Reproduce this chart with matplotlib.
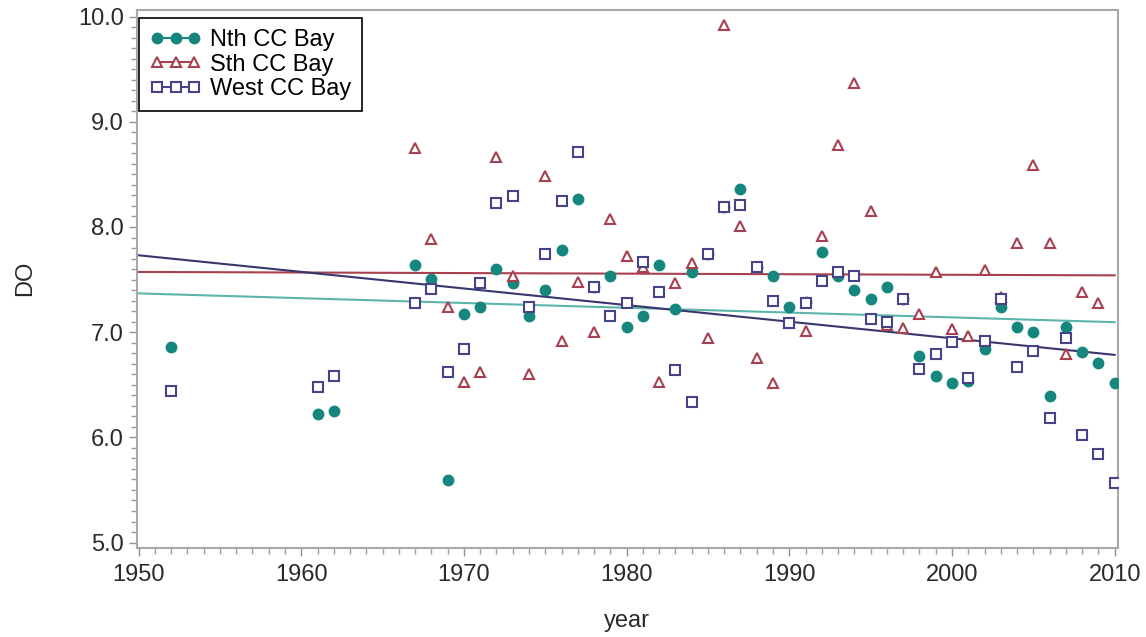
import matplotlib.pyplot as plt
import numpy as np
from matplotlib.ticker import MultipleLocator

# values
years_nth = [1952, 1961, 1962] + list(range(1967, 2011))
do_nth = [6.86, 6.22, 6.25,
          7.64, 7.51, 5.59, 7.17, 7.24, 7.60, 7.47, 7.15, 7.40, 7.78,
          8.27, 7.43, 7.53, 7.05, 7.15, 7.64, 7.22, 7.57, 7.74, 8.19,
          8.36, 7.62, 7.53, 7.24, 7.29, 7.76, 7.53, 7.40, 7.32, 7.43,
          7.32, 6.77, 6.58, 6.52, 6.54, 6.84, 7.24, 7.05, 7.00, 6.39,
          7.05, 6.81, 6.71, 6.52]

years_sth = list(range(1967, 2010))
do_sth = [8.75, 7.89, 7.24, 6.53, 6.62, 8.67, 7.53, 6.60, 8.48, 6.92,
          7.48, 7.00, 8.08, 7.72, 7.62, 6.53, 7.47, 7.66, 6.94, 9.92,
          8.01, 6.75, 6.52, 7.09, 7.01, 7.91, 8.78, 9.37, 8.15, 7.07,
          7.04, 7.17, 7.57, 7.03, 6.96, 7.59, 7.33, 7.85, 8.59, 7.85,
          6.79, 7.38, 7.28]

years_west = [1952, 1961, 1962] + list(range(1967, 2011))
do_west = [6.44, 6.48, 6.58,
           7.28, 7.41, 6.62, 6.84, 7.47, 8.23, 8.29, 7.24, 7.74, 8.25,
           8.71, 7.43, 7.15, 7.28, 7.67, 7.38, 6.64, 6.34, 7.74, 8.19,
           8.21, 7.62, 7.30, 7.09, 7.28, 7.49, 7.57, 7.53, 7.13, 7.10,
           7.32, 6.65, 6.79, 6.91, 6.56, 6.92, 7.32, 6.67, 6.82, 6.18,
           6.94, 6.02, 5.84, 5.57]

plt.rcParams['font.family'] = ['Liberation Sans', 'DejaVu Sans']

fig = plt.figure(figsize=(11.46, 6.37), dpi=100)
ax = fig.add_axes([0.1195, 0.140, 0.856, 0.845])

series = [
    ("Nth CC Bay", years_nth, do_nth, "#16877E", "#5DB5AA",
     dict(marker="o", markerfacecolor="#16877E", markeredgecolor="#16877E", markersize=7.5)),
    ("Sth CC Bay", years_sth, do_sth, "#A8404F", "#A8404F",
     dict(marker="^", markerfacecolor="white", markeredgecolor="#A8404F", markersize=7, markeredgewidth=1.5)),
    ("West CC Bay", years_west, do_west, "#45448A", "#37376E",
     dict(marker="s", markerfacecolor="white", markeredgecolor="#45448A", markersize=7, markeredgewidth=1.5)),
]

xfit = np.array([1950, 2010])
handles = []
for label, yrs, vals, col, linecol, mk in series:
    ax.plot(yrs, vals, linestyle="none", zorder=3, **mk)
    # least-squares trend line
    slope, icpt = np.polyfit(yrs, vals, 1)
    ax.plot(xfit, slope * xfit + icpt, color=linecol, lw=1.5, zorder=2)
    h, = ax.plot([], [], color=col, lw=1.5, **mk)
    h.set_label(label)
    handles.append(h)

ax.set_xlim(1949.9, 2010.2)
ax.set_ylim(4.95, 10.067)
ax.xaxis.set_major_locator(MultipleLocator(10))
ax.xaxis.set_minor_locator(MultipleLocator(1))
ax.yaxis.set_major_locator(MultipleLocator(1))
ax.yaxis.set_minor_locator(MultipleLocator(0.1))
ax.yaxis.set_major_formatter(plt.FormatStrFormatter('%.1f'))

for s in ax.spines.values():
    s.set_color("#A8A8A8")
    s.set_linewidth(1.5)
ax.tick_params(which="major", length=6, width=1, color="#909090", labelsize=17, labelcolor="#2A2A2A")
ax.tick_params(which="minor", length=4, width=1, color="#A0A0A0")
ax.tick_params(axis="x", which="both", pad=6)

ax.set_xlabel("year", fontsize=17, color="#2A2A2A", labelpad=17)
ax.set_ylabel("DO", fontsize=17, color="#2A2A2A", labelpad=30)

leg = ax.legend(handles=handles, loc="upper left", bbox_to_anchor=(0.002, 0.984),
                numpoints=3, fontsize=17, handlelength=2.2, handletextpad=0.35,
                borderpad=0.45, labelspacing=0.12, fancybox=False, framealpha=1,
                edgecolor="black", borderaxespad=0)
leg.get_frame().set_linewidth(1.2)

fig.savefig("out.png", dpi=100)
